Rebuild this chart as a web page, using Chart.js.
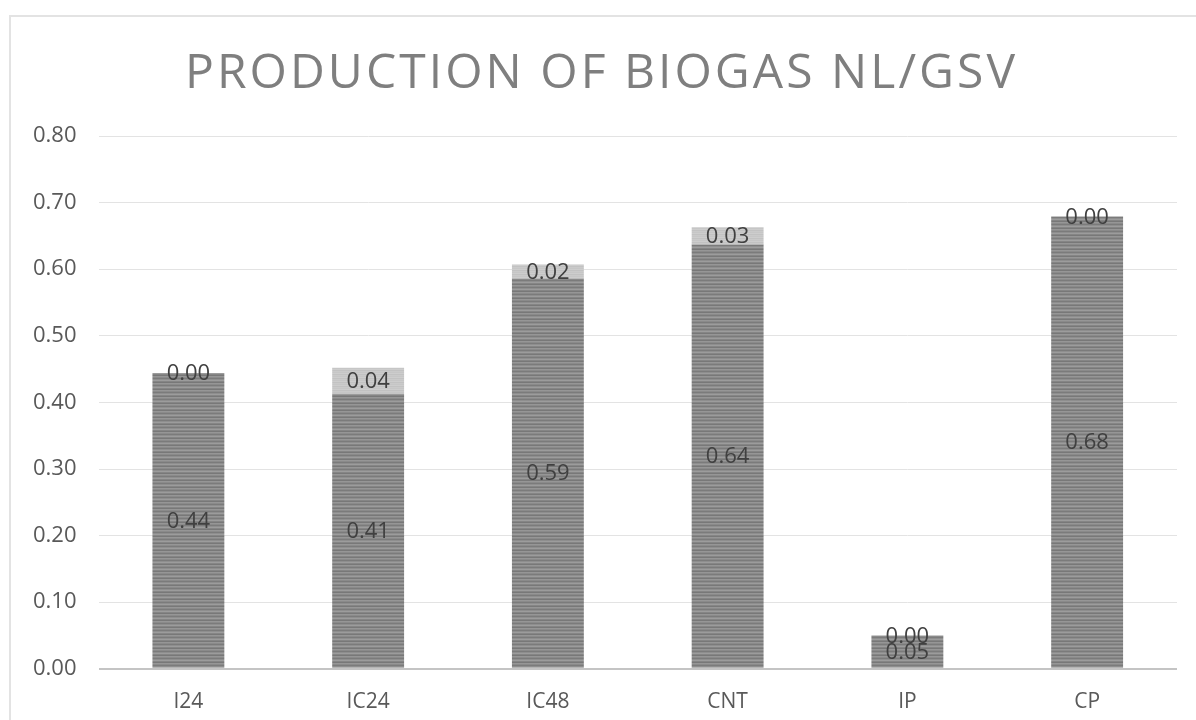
<!DOCTYPE html>
<html>
<head>
<meta charset="utf-8">
<script src="https://cdn.jsdelivr.net/npm/chart.js@4/dist/chart.umd.min.js"></script>
<style>
  html, body { margin: 0; padding: 0; background: #fff; }
  #wrap { position: relative; width: 1196px; height: 720px; overflow: hidden; }
  #frame { position: absolute; left: 9px; top: 15px; width: 1250px; height: 800px;
           border: 2px solid #e3e3e3; box-sizing: border-box; }
  #biogasChart { position: absolute; left: 0; top: 0; }
</style>
</head>
<body>
<div id="wrap">
  <div id="frame"></div>
  <canvas id="biogasChart" width="1196" height="734"></canvas>
</div>
<script>
// ---------- DATA ----------
const categories = ["I24", "IC24", "IC48", "CNT", "IP", "CP"];
const baseValues = [0.444, 0.413, 0.586, 0.637, 0.05, 0.679];
const extraValues = [0.0, 0.039, 0.021, 0.026, 0.0, 0.0];
const yTicks = [0, 0.1, 0.2, 0.3, 0.4, 0.5, 0.6, 0.7, 0.8];
const chartTitle = "PRODUCTION OF BIOGAS NL/GSV";

const FONT = "'Open Sans', 'Liberation Sans', sans-serif";

// ---------- PATTERNS ----------
function stripePattern(shades) {
  const c = document.createElement("canvas");
  c.width = 4;
  c.height = shades.length;
  const g = c.getContext("2d");
  shades.forEach((s, i) => {
    g.fillStyle = s;
    g.fillRect(0, i, 4, 1);
  });
  return g.createPattern(c, "repeat");
}

const ctx = document.getElementById("biogasChart").getContext("2d");
const darkFill = stripePattern(["#7b7b7b", "#8e8e8e", "#9c9c9c", "#858585", "#787878", "#969696", "#8a8a8a"]);
const lightFill = stripePattern(["#c6c6c6", "#cdcdcd", "#c2c2c2", "#cacaca"]);

// ---------- PLUGINS ----------
const titlePlugin = {
  id: "spacedTitle",
  afterDraw(chart) {
    const c = chart.ctx;
    c.save();
    c.font = "48px " + FONT;
    c.fillStyle = "#7f7f7f";
    c.textBaseline = "alphabetic";
    c.textAlign = "left";
    const plain = c.measureText(chartTitle).width;
    const spacing = (830 - plain) / (chartTitle.length - 1);
    c.letterSpacing = spacing + "px";
    const w = c.measureText(chartTitle).width - spacing;
    c.fillText(chartTitle, 600 - w / 2, 88);
    c.restore();
  }
};

const labelPlugin = {
  id: "segmentLabels",
  afterDatasetsDraw(chart) {
    const c = chart.ctx;
    c.save();
    c.font = "22px " + FONT;
    c.fillStyle = "#404040";
    c.textAlign = "center";
    c.textBaseline = "middle";
    chart.data.datasets.forEach((ds, di) => {
      chart.getDatasetMeta(di).data.forEach((bar, i) => {
        const mid = (bar.y + bar.base) / 2;
        c.fillText(ds.data[i].toFixed(2), bar.x, mid + 1);
      });
    });
    c.restore();
  }
};

// ---------- CHART ----------
new Chart(ctx, {
  type: "bar",
  data: {
    labels: categories,
    datasets: [
      { label: "base", data: baseValues, backgroundColor: darkFill, borderWidth: 0 },
      { label: "extra", data: extraValues, backgroundColor: lightFill, borderWidth: 0 }
    ]
  },
  options: {
    responsive: false,
    animation: false,
    layout: { padding: { top: 136, right: 19, bottom: 6, left: 11 } },
    categoryPercentage: 1,
    barPercentage: 0.4,
    plugins: {
      legend: { display: false },
      title: { display: false },
      tooltip: { enabled: false }
    },
    scales: {
      x: {
        stacked: true,
        grid: { display: false },
        border: { display: false },
        ticks: { color: "#595959", font: { size: 21, family: FONT }, padding: 13 }
      },
      y: {
        stacked: true,
        min: 0,
        max: 0.8,
        afterBuildTicks(scale) {
          scale.ticks = yTicks.map(v => ({ value: v }));
        },
        border: { display: false },
        grid: {
          drawTicks: false,
          color: c => (c.tick && c.tick.value === 0 ? "#c4c4c4" : "#e3e3e3"),
          lineWidth: c => (c.tick && c.tick.value === 0 ? 2 : 1)
        },
        ticks: {
          color: "#595959",
          font: { size: 22, family: FONT },
          padding: 22,
          callback: v => Number(v).toFixed(2)
        }
      }
    }
  },
  plugins: [titlePlugin, labelPlugin]
});
</script>
</body>
</html>
